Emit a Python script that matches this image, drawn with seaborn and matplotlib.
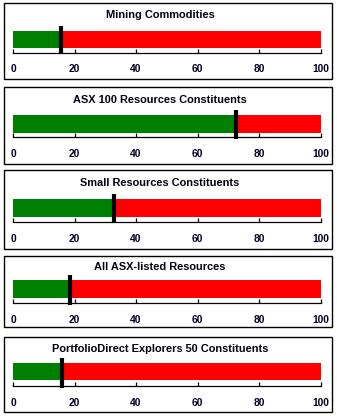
import matplotlib
matplotlib.use("Agg")
import matplotlib.pyplot as plt
from matplotlib.patches import Rectangle
import seaborn as sns
import pandas as pd

# ---- data ----
titles = [
    "Mining Commodities",
    "ASX 100 Resources Constituents",
    "Small Resources Constituents",
    "All ASX-listed Resources",
    "PortfolioDirect Explorers 50 Constituents",
]
values = [15.5, 72.5, 33.0, 18.5, 16.0]
scale_max = [100, 100, 100, 100, 100]
tick_values = [0, 20, 40, 60, 80, 100]
tick_labels = ["0", "20", "40", "60", "80", "100"]

# ---- layout (pixels, from top) ----
W, H = 337, 416
# box_top, box_bottom, bar_top, bar_bottom, axis_line, title_y
layout = [
    (2.5, 79.0, 31.0, 48.0, 52.5, 15.0),
    (87.3, 164.0, 115.0, 133.0, 137.0, 100.0),
    (170.5, 249.0, 199.0, 217.0, 221.7, 182.7),
    (255.5, 327.3, 280.0, 298.0, 303.0, 267.0),
    (336.7, 412.3, 363.0, 380.0, 386.0, 349.0),
]
box_left, box_right = 4.0, 332.0
ax_left, ax_right = 13.0, 320.5

sns.set_theme(style="white")
plt.rcParams["font.family"] = ["Liberation Sans", "DejaVu Sans"]

fig = plt.figure(figsize=(W / 100, H / 100), dpi=100)
fig.patch.set_facecolor("white")

for i, (title, val, mx) in enumerate(zip(titles, values, scale_max)):
    bt, bb, bar_t, bar_b, axis_y, title_y = layout[i]
    # panel border
    fig.add_artist(Rectangle((box_left / W, 1 - bb / H), (box_right - box_left) / W,
                             (bb - bt) / H, transform=fig.transFigure, fill=False,
                             edgecolor="black", linewidth=1.0))
    marker_top = bar_t - 5.0
    hpx = axis_y - marker_top
    ax = fig.add_axes([ax_left / W, 1 - axis_y / H, (ax_right - ax_left) / W, hpx / H])
    c = (bar_t + bar_b) / 2.0
    width = (bar_b - bar_t) / hpx
    df = pd.DataFrame({"cat": ["x"], "full": [mx], "val": [val]})
    sns.barplot(data=df, x="full", y="cat", orient="h", color="#FF0000",
                saturation=1, width=width, ax=ax, edgecolor="none", linewidth=0)
    sns.barplot(data=df, x="val", y="cat", orient="h", color="#008000",
                saturation=1, width=width, ax=ax, edgecolor="none", linewidth=0)
    ybot = (axis_y - c) / hpx
    ytop = -(c - marker_top) / hpx
    ax.set_ylim(ybot, ytop)
    ax.set_xlim(0, 100)
    ax.vlines(val, ytop, ybot + 1.5 / hpx, color="black", linewidth=3.0,
              clip_on=False, zorder=5)
    for s in ["top", "left", "right"]:
        ax.spines[s].set_visible(False)
    ax.spines["bottom"].set_color("black")
    ax.spines["bottom"].set_linewidth(0.9)
    ax.set_yticks([])
    ax.set_ylabel("")
    ax.set_xlabel("")
    ax.set_xticks(tick_values)
    ax.set_xticklabels(tick_labels, fontsize=7.4, fontweight="bold", color="#000022")
    ax.tick_params(axis="x", direction="in", length=3, width=0.9, color="black",
                   pad=8.5, bottom=True)
    ax.set_facecolor("none")
    fig.text(160 / W, 1 - title_y / H, title, ha="center", va="center",
             fontsize=7.9, fontweight="bold", color="#000011")

fig.savefig("out.png", dpi=100, facecolor="white")
